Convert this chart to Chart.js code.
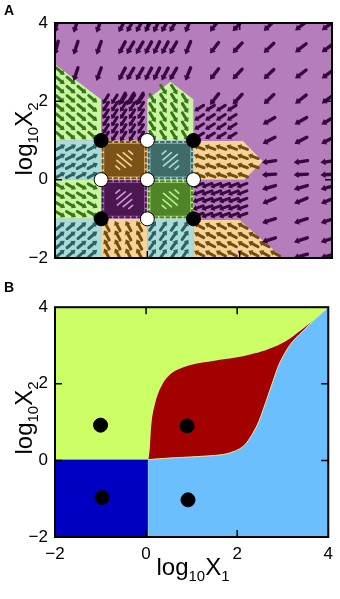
<!DOCTYPE html>
<html><head><meta charset="utf-8">
<script src="https://cdn.jsdelivr.net/npm/chart.js@4.4.1/dist/chart.umd.min.js"></script>
<style>
html,body{margin:0;padding:0;background:#fff;}
body{width:340px;height:599px;overflow:hidden;position:relative;font-family:"Liberation Sans",Arial,Helvetica,sans-serif;color:#000;}
canvas{position:absolute;left:0;}
#ca{top:0;}
#cb{top:290px;}
.plbl{position:absolute;font-weight:bold;font-size:14px;line-height:14px;}
.ttl{position:absolute;width:140px;height:28px;line-height:28px;text-align:center;font-size:24px;white-space:nowrap;}
.rot{transform:rotate(-90deg);}
.s{font-size:15px;position:relative;top:6px;}
</style></head>
<body>
<canvas id="ca" width="340" height="280"></canvas>
<canvas id="cb" width="340" height="309"></canvas>
<div class="plbl" style="left:4px;top:3px;">A</div>
<div class="plbl" style="left:4px;top:280px;">B</div>
<div class="ttl rot" style="left:-46px;top:125px;">log<span class="s">10</span>X<span class="s">2</span></div>
<div class="ttl rot" style="left:-46px;top:404px;">log<span class="s">10</span>X<span class="s">2</span></div>
<div class="ttl" style="left:123px;top:553px;">log<span class="s">10</span>X<span class="s">1</span></div>
<script>
// ---------------- DATA ----------------
const axisTicks = [-2, 0, 2, 4];
const axisTickLabels = ['\u22122', '0', '2', '4'];

// Panel A: fixed points (log10 X1, log10 X2)
const stableX = [-1, 1, -1, 1];
const stableY = [1, 1, -1, -1];
const unstableX = [0, -1, 0, 1, 0];
const unstableY = [1, 0, 0, 0, -1];

// Panel A: basin regions (polygon vertices in log10 units)
const cellNames = ['A1','B1','C1','D1','A2','B2','C2','D2','A3','B3','C3','D3','A4','B4','C4','D4'];
const cellPoly = {
  A1: [[-2,1],[-1,1],[-1,2.05],[-2,2.95]],
  B1: [[-1,1],[0,1],[0,2.05],[-1,2.05]],
  C1: [[0,1],[1,1],[1,2.05],[0.5,2.5],[0,2.05]],
  D1: [[1,1],[2,1],[2,2],[1,2]],
  A2: [[-2,0],[-1,0],[-1,1],[-2,1]],
  B2: [[-1,0],[0,0],[0,1],[-1,1]],
  C2: [[0,0],[1,0],[1,1],[0,1]],
  D2: [[1,0],[2.1,0],[2.5,0.47],[2.07,0.99],[1,0.99]],
  A3: [[-2,-1],[-1,-1],[-1,0],[-2,0]],
  B3: [[-1,-1],[0,-1],[0,0],[-1,0]],
  C3: [[0,-1],[1,-1],[1,0],[0,0]],
  D3: [[1,-1],[2.08,-1],[2.08,0],[1,0]],
  A4: [[-2,-2],[-1,-2],[-1,-1],[-2,-1]],
  B4: [[-1,-2],[0,-2],[0,-1],[-1,-1]],
  C4: [[0,-2],[1,-2],[1,-1],[0,-1]],
  D4: [[1,-2],[2.93,-2],[2.0,-1.03],[1,-1.03]]
};
const cellKind = {A1:'green',B1:'purple',C1:'green',D1:'purple',A2:'blue',B2:'tan',C2:'blue',D2:'tan',
                  A3:'green',B3:'purple',C3:'green',D3:'purple',A4:'blue',B4:'tan',C4:'blue',D4:'tan'};
// arrow direction in each region (degrees, counter-clockwise from +x)
const cellAngle = {A1:-40,B1:-122,C1:-58,D1:-148,A2:28,B2:-40,C2:40,D2:160,
                   A3:-30,B3:40,C3:-40,D3:-160,A4:40,B4:118,C4:55,D4:152};
const denseCells = ['B2','C2','B3','C3'];

// Panel A: sparse arrows in the outer (purple) basin
const outerTopRowsY = [3.92, 3.36, 2.69, 2.05];
const outerTopColsX = [-1.97,-1.55,-1.05,-0.55,-0.37,-0.17,0.02,0.2,0.38,0.56,0.88,1.45,1.95,2.63,3.32,3.9];
const outerTopAngle = [-105,-108,-110,-118,-120,-120,-118,-116,-118,-120,-112,-128,-133,-136,-142,-144];
const outerRightRowsY = [1.5, 1.0, 0.46, 0.13, -0.2, -0.54, -1.05, -1.54, -1.95];
const outerRightColsX = [2.63, 3.32, 3.9];
const outerRightAngle = [-150,-153,-172,-176,-164,-157,-162,-162,-165];

// Panel B: basin boundary curves
const upperBoundX = [0.05,0.08,0.1,0.13,0.2,0.3,0.45,0.65,1.0,1.5,2.0,2.5,2.8,3.1,3.4,3.7,4.0];
const upperBoundY = [0.02,0.3,0.7,1.1,1.5,1.85,2.15,2.35,2.5,2.6,2.69,2.83,2.96,3.14,3.4,3.68,4.0];
const lowerBoundX = [0.05,0.5,1.13,1.6,1.85,2.05,2.2,2.35,2.47,2.57,2.68,2.79,2.9,3.0,3.15,3.29,3.45,3.65,4.0];
const lowerBoundY = [0.02,0.06,0.1,0.14,0.2,0.3,0.45,0.72,1.0,1.32,1.7,2.08,2.45,2.7,3.0,3.2,3.38,3.62,4.0];
const splitX = 0.05, splitY = 0.02;
const dotsBX = [-1, 0.9, -0.97, 0.92];
const dotsBY = [0.92, 0.9, -0.97, -1.03];

// ---------------- STYLE ----------------
const FONT = '"Liberation Sans", Arial, Helvetica, sans-serif';
const FILL = {purple:'#b67dbd', green:'#c8f6a2', blue:'#aadbdb', tan:'#f6d499'};
const ARROW = {purple:'#380840', green:'#3a7518', blue:'#2f625f', tan:'#744c0e'};
const DENSE = {B2:'#7b5316', C2:'#3f6b69', B3:'#4b1751', C3:'#4f8526'};
const STREAK = {B2:'#f2d096', C2:'#aadcda', B3:'#cf95d6', C3:'#bdee90'};
const COLB = {yg:'#ccff66', dblue:'#0000c2', lblue:'#6cbfff', red:'#a30000'};

function inPoly(poly, px, py) {
  let ins = false;
  for (let i = 0, j = poly.length - 1; i < poly.length; j = i++) {
    const [xi, yi] = poly[i], [xj, yj] = poly[j];
    if (((yi > py) !== (yj > py)) && (px < (xj - xi) * (py - yi) / (yj - yi) + xi)) ins = !ins;
  }
  return ins;
}
function arrow(ctx, px, py, ang, len, w, hl, hw, color) {
  const a = ang * Math.PI / 180, dx = Math.cos(a), dy = -Math.sin(a);
  const tx = px - dx * len / 2, ty = py - dy * len / 2;
  const hx = px + dx * len / 2, hy = py + dy * len / 2;
  const bx = hx - dx * hl, by = hy - dy * hl;
  ctx.strokeStyle = color; ctx.fillStyle = color; ctx.lineWidth = w; ctx.lineCap = 'round';
  ctx.beginPath(); ctx.moveTo(tx, ty); ctx.lineTo(bx + dx, by + dy); ctx.stroke();
  ctx.beginPath(); ctx.moveTo(hx, hy); ctx.lineTo(bx - dy * hw, by + dx * hw); ctx.lineTo(bx + dy * hw, by - dx * hw); ctx.closePath(); ctx.fill();
}
function polyPath(ctx, poly, X, Y) {
  ctx.beginPath();
  poly.forEach((p, i) => i ? ctx.lineTo(X(p[0]), Y(p[1])) : ctx.moveTo(X(p[0]), Y(p[1])));
  ctx.closePath();
}
function smooth(ctx, pts, first) {
  if (first) ctx.moveTo(pts[0][0], pts[0][1]); else ctx.lineTo(pts[0][0], pts[0][1]);
  for (let i = 0; i < pts.length - 1; i++) {
    const p0 = pts[i - 1] || pts[i], p1 = pts[i], p2 = pts[i + 1], p3 = pts[i + 2] || p2;
    ctx.bezierCurveTo(p1[0] + (p2[0] - p0[0]) / 6, p1[1] + (p2[1] - p0[1]) / 6,
                      p2[0] - (p3[0] - p1[0]) / 6, p2[1] - (p3[1] - p1[1]) / 6, p2[0], p2[1]);
  }
}

const framePlugin = {
  id: 'frame',
  afterDraw(chart) {
    const {ctx, chartArea: ca, scales: {x, y}} = chart;
    ctx.save();
    ctx.strokeStyle = '#000'; ctx.lineWidth = 1.5;
    const tl = 7;
    axisTicks.forEach(v => {
      const px = x.getPixelForValue(v), py = y.getPixelForValue(v);
      ctx.beginPath();
      if (px > ca.left + 2 && px < ca.right - 2) {
        ctx.moveTo(px, ca.bottom); ctx.lineTo(px, ca.bottom - tl);
        ctx.moveTo(px, ca.top); ctx.lineTo(px, ca.top + tl);
      }
      if (py > ca.top + 2 && py < ca.bottom - 2) {
        ctx.moveTo(ca.left, py); ctx.lineTo(ca.left + tl, py);
        ctx.moveTo(ca.right, py); ctx.lineTo(ca.right - tl, py);
      }
      ctx.stroke();
    });
    ctx.lineWidth = 2;
    ctx.strokeRect(ca.left, ca.top, ca.width, ca.height);
    ctx.restore();
  }
};

const panelAPlugin = {
  id: 'panelA',
  beforeDatasetsDraw(chart) {
    const {ctx, chartArea: ca, scales: {x, y}} = chart;
    const X = v => x.getPixelForValue(v), Y = v => y.getPixelForValue(v);
    ctx.save();
    ctx.beginPath(); ctx.rect(ca.left, ca.top, ca.width, ca.height); ctx.clip();
    ctx.fillStyle = FILL.purple; ctx.fillRect(ca.left, ca.top, ca.width, ca.height);
    cellNames.forEach(n => { polyPath(ctx, cellPoly[n], X, Y); ctx.fillStyle = FILL[cellKind[n]]; ctx.fill(); });
    cellNames.forEach(n => {
      const poly = cellPoly[n];
      const dense = denseCells.includes(n);
      const step = (n === 'B1' || n === 'D3') ? 0.19 : 0.235;
      const xs = poly.map(p => p[0]), ys = poly.map(p => p[1]);
      const x0 = Math.min(...xs), x1 = Math.max(...xs), y0 = Math.min(...ys), y1 = Math.max(...ys);
      if (dense) {
        ctx.fillStyle = DENSE[n];
        ctx.fillRect(X(x0) + 3, Y(y1) + 3, X(x1) - X(x0) - 6, Y(y0) - Y(y1) - 6);
        const cx = (X(x0) + X(x1)) / 2, cy = (Y(y0) + Y(y1)) / 2;
        const a = cellAngle[n] * Math.PI / 180, dx = Math.cos(a), dy = -Math.sin(a);
        ctx.strokeStyle = STREAK[n]; ctx.lineWidth = 1.6; ctx.lineCap = 'round';
        [[0, 18], [-5, 11], [5, 11], [-10, 5], [10, 5]].forEach(([off, L]) => {
          const ox = cx - dy * off, oy = cy + dx * off;
          ctx.beginPath(); ctx.moveTo(ox - dx * L / 2, oy - dy * L / 2); ctx.lineTo(ox + dx * L / 2, oy + dy * L / 2); ctx.stroke();
        });
        ctx.strokeStyle = DENSE[n]; ctx.lineWidth = 2; ctx.setLineDash([3, 3]);
        ctx.strokeRect(X(x0) + 1.5, Y(y1) + 1.5, X(x1) - X(x0) - 3, Y(y0) - Y(y1) - 3);
        ctx.setLineDash([]);
        return;
      }
      for (let gx = x0 + step / 2; gx < x1; gx += step) {
        for (let gy = y0 + step / 2; gy < y1; gy += step) {
          if (inPoly(poly, gx, gy)) arrow(ctx, X(gx), Y(gy), cellAngle[n], 11, 3, 4.2, 3, ARROW[cellKind[n]]);
        }
      }
    });
    const inAny = (px, py) => cellNames.some(n => inPoly(cellPoly[n], px, py));
    outerTopRowsY.forEach(gy => outerTopColsX.forEach((gx, j) => {
      if (!inAny(gx, gy)) arrow(ctx, X(gx), Y(gy), outerTopAngle[j], 14, 3.4, 5, 3.4, ARROW.purple);
    }));
    outerRightRowsY.forEach((gy, i) => outerRightColsX.forEach(gx => {
      if (!inAny(gx, gy)) arrow(ctx, X(gx), Y(gy), outerRightAngle[i], 14, 3.4, 5, 3.4, ARROW.purple);
    }));
    ctx.restore();
  }
};

const panelBPlugin = {
  id: 'panelB',
  beforeDatasetsDraw(chart) {
    const {ctx, chartArea: ca, scales: {x, y}} = chart;
    const X = v => x.getPixelForValue(v), Y = v => y.getPixelForValue(v);
    const up = upperBoundX.map((v, i) => [X(v), Y(upperBoundY[i])]);
    const lo = lowerBoundX.map((v, i) => [X(v), Y(lowerBoundY[i])]);
    ctx.save();
    ctx.beginPath(); ctx.rect(ca.left, ca.top, ca.width, ca.height); ctx.clip();
    ctx.fillStyle = COLB.yg; ctx.fillRect(ca.left, ca.top, ca.width, ca.height);
    ctx.fillStyle = COLB.dblue;
    ctx.fillRect(X(-2), Y(splitY), X(splitX) - X(-2), Y(-2) - Y(splitY));
    ctx.beginPath(); ctx.moveTo(X(splitX), Y(-2)); smooth(ctx, lo, false);
    ctx.lineTo(X(4), Y(-2)); ctx.closePath(); ctx.fillStyle = COLB.lblue; ctx.fill();
    ctx.beginPath(); smooth(ctx, up, true); smooth(ctx, lo.slice().reverse(), false); ctx.closePath();
    ctx.fillStyle = COLB.red; ctx.fill();
    ctx.beginPath(); smooth(ctx, lo, true); ctx.strokeStyle = '#e6eab0'; ctx.lineWidth = 1; ctx.stroke();
    ctx.beginPath(); ctx.moveTo(X(splitX), Y(-2)); ctx.lineTo(X(splitX), Y(splitY));
    ctx.strokeStyle = '#8fd0f0'; ctx.stroke();
    ctx.restore();
  }
};

function axes(showX, bottomH) {
  const tickCfg = (show) => ({
    display: show, color: '#000', font: {size: 17, family: FONT}, padding: 7,
    callback: (v) => axisTickLabels[axisTicks.indexOf(v)]
  });
  return {
    x: {type: 'linear', min: -2, max: 4, grid: {display: false, drawTicks: false}, border: {display: false},
        ticks: tickCfg(showX), afterBuildTicks: s => { s.ticks = axisTicks.map(v => ({value: v})); },
        afterFit: s => { s.height = bottomH; }},
    y: {type: 'linear', min: -2, max: 4, grid: {display: false, drawTicks: false}, border: {display: false},
        ticks: tickCfg(true), afterBuildTicks: s => { s.ticks = axisTicks.map(v => ({value: v})); },
        afterFit: s => { s.width = 55; }}
  };
}
const baseOpts = (padTop, showX, bottomH) => ({
  responsive: false, animation: false, events: [], devicePixelRatio: 1,
  layout: {padding: {top: padTop, right: 7, left: 0, bottom: 0}},
  plugins: {legend: {display: false}, tooltip: {enabled: false}},
  scales: axes(showX, bottomH)
});

new Chart(document.getElementById('ca'), {
  type: 'scatter',
  data: {datasets: [
    {data: stableX.map((v, i) => ({x: v, y: stableY[i]})), pointRadius: 7, backgroundColor: '#000', borderColor: '#000', borderWidth: 1},
    {data: unstableX.map((v, i) => ({x: v, y: unstableY[i]})), pointRadius: 7, backgroundColor: '#fff', borderColor: '#000', borderWidth: 1}
  ]},
  options: baseOpts(23, false, 22),
  plugins: [panelAPlugin, framePlugin]
});

new Chart(document.getElementById('cb'), {
  type: 'scatter',
  data: {datasets: [
    {data: dotsBX.map((v, i) => ({x: v, y: dotsBY[i]})), pointRadius: 7, backgroundColor: '#000', borderColor: '#000', borderWidth: 1}
  ]},
  options: baseOpts(12, true, 62),
  plugins: [panelBPlugin, framePlugin]
});
</script>
</body></html>
